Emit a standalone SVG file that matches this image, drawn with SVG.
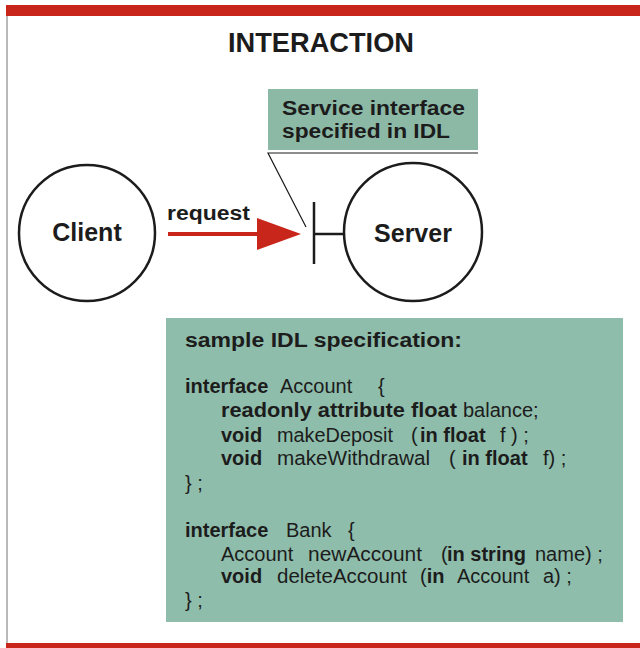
<svg xmlns="http://www.w3.org/2000/svg" width="640" height="648" viewBox="0 0 640 648">
<style>
.t{font-family:"Liberation Sans",Arial,sans-serif;fill:#1c1c1c}
.b{font-weight:bold}
.c{font-family:"Liberation Sans",Arial,sans-serif;font-size:20px;fill:#1c1c1c}
.k{font-weight:bold}
.ln{stroke:#1c1c1c;fill:none}
</style>
<defs>
<marker id="ah" viewBox="0 0 44 32" refX="0" refY="16" markerWidth="44" markerHeight="32" markerUnits="userSpaceOnUse" orient="auto">
<path d="M0,0 L44,16 L0,32 Z" fill="#c8261a"/>
</marker>
</defs>
<rect x="0" y="0" width="640" height="648" fill="#ffffff"/>
<rect id="topbar" x="6" y="5" width="634" height="11" fill="#c8261a"/>
<rect id="botbar" x="6" y="643" width="634" height="5" fill="#c8261a"/>
<line x1="7" y1="16" x2="7" y2="643" stroke="#8a8a8a" stroke-width="1.2"/>
<text class="t b" x="321" y="52" font-size="28" text-anchor="middle" textLength="186" lengthAdjust="spacingAndGlyphs">INTERACTION</text>

<g id="connectors">
<line x1="168" y1="234" x2="257" y2="234" stroke="#c8261a" stroke-width="4" marker-end="url(#ah)"/>
<polyline class="ln" points="478,153 268,153 306,227" stroke-width="1.2"/>
<line class="ln" x1="314" y1="202" x2="314" y2="264" stroke-width="2.5"/>
<line class="ln" x1="314" y1="234" x2="344" y2="234" stroke-width="2.5"/>
<text class="t b" x="167" y="220" font-size="20" textLength="83" lengthAdjust="spacingAndGlyphs">request</text>
</g>

<g id="client">
<circle class="ln" cx="87" cy="233" r="68" stroke-width="2.5"/>
<text class="t b" x="87" y="241" font-size="25" text-anchor="middle">Client</text>
</g>

<g id="server">
<circle class="ln" cx="413" cy="232" r="69" stroke-width="2.5"/>
<text class="t b" x="413" y="242" font-size="25" text-anchor="middle">Server</text>
</g>

<g id="service-interface">
<rect x="268" y="89" width="210" height="61" fill="#8cb8a6"/>
<text class="t b" font-size="20"><tspan x="282" y="115" textLength="183" lengthAdjust="spacingAndGlyphs">Service interface</tspan><tspan x="282" y="138" textLength="168" lengthAdjust="spacingAndGlyphs">specified in IDL</tspan></text>
</g>

<g id="idl-spec">
<rect x="166" y="318" width="457" height="304" fill="#8fbdab"/>
<text class="c k" x="185" y="347" textLength="277" lengthAdjust="spacingAndGlyphs">sample IDL specification:</text>

<text class="c"><tspan class="k" x="185" y="393">interface</tspan><tspan x="280" y="393">Account</tspan><tspan x="378" y="393">{</tspan></text>
<text class="c"><tspan class="k" x="221" y="417" textLength="236" lengthAdjust="spacingAndGlyphs">readonly attribute float</tspan><tspan x="463" y="417">balance;</tspan></text>
<text class="c"><tspan class="k" x="221" y="442">void</tspan><tspan x="277" y="442" textLength="116" lengthAdjust="spacingAndGlyphs">makeDeposit</tspan><tspan x="411" y="442">(</tspan><tspan class="k" x="420" y="442">in float</tspan><tspan x="500" y="442">f ) ;</tspan></text>
<text class="c"><tspan class="k" x="221" y="465">void</tspan><tspan x="277" y="465" textLength="153" lengthAdjust="spacingAndGlyphs">makeWithdrawal</tspan><tspan x="449" y="465">(</tspan><tspan class="k" x="462" y="465">in float</tspan><tspan x="543" y="465">f) ;</tspan></text>
<text class="c" x="185" y="490">} ;</text>

<text class="c"><tspan class="k" x="185" y="537">interface</tspan><tspan x="286" y="537">Bank</tspan><tspan x="348" y="537">{</tspan></text>
<text class="c"><tspan x="221" y="561">Account</tspan><tspan x="308" y="561" textLength="114" lengthAdjust="spacingAndGlyphs">newAccount</tspan><tspan x="441" y="561">(</tspan><tspan class="k" x="447" y="561">in string</tspan><tspan x="535" y="561">name) ;</tspan></text>
<text class="c"><tspan class="k" x="221" y="583">void</tspan><tspan x="277" y="583" textLength="130" lengthAdjust="spacingAndGlyphs">deleteAccount</tspan><tspan x="420" y="583">(</tspan><tspan class="k">in</tspan><tspan x="457" y="583">Account</tspan><tspan x="543" y="583">a) ;</tspan></text>
<text class="c" x="185" y="607">} ;</text>
</g>
</svg>
